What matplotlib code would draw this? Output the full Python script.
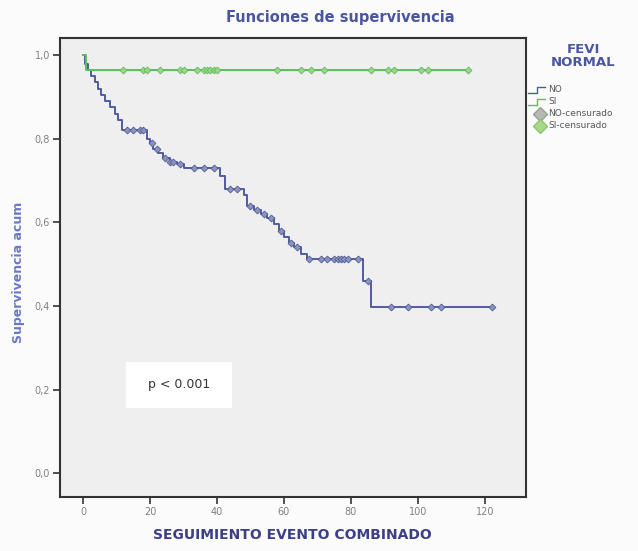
import matplotlib
matplotlib.use("Agg")
import matplotlib.pyplot as plt
from matplotlib.lines import Line2D
import numpy as np

# Kaplan-Meier step data
no_times = [0, 0.5, 1.5, 2.5, 3.5, 4.5, 5.5, 6.5, 8, 9.5, 10.5, 11.5, 19, 20, 21, 22.5, 24, 26, 28, 30,
            41, 42.5, 48, 49, 51, 53, 55, 57, 58.5, 60, 61.5, 63, 65, 67, 83.5, 86, 122]
no_surv = [1.0, 0.98, 0.965, 0.95, 0.935, 0.92, 0.905, 0.89, 0.875, 0.86, 0.845, 0.82, 0.80, 0.79, 0.775,
           0.765, 0.755, 0.745, 0.74, 0.73, 0.71, 0.68, 0.665, 0.64, 0.63, 0.62, 0.61, 0.595, 0.58, 0.565,
           0.55, 0.54, 0.525, 0.512, 0.46, 0.398, 0.398]
no_cens = [13, 15, 17, 18, 20.5, 22, 24.5, 26, 27, 29, 33, 36, 39, 44, 46, 50, 52, 54, 56, 59, 62, 64,
           67.5, 71, 73, 75, 76, 77, 78, 79, 82, 85, 92, 97, 104, 107, 122]

si_times = [0, 1, 115]
si_surv = [1.0, 0.965, 0.965]
si_cens = [12, 18, 19, 23, 29, 30, 34, 36, 37, 38, 39, 40, 58, 65, 68, 72, 86, 91, 93, 101, 103, 115]

x_ticks = [0, 20, 40, 60, 80, 100, 120]
y_ticks = [0.0, 0.2, 0.4, 0.6, 0.8, 1.0]

NO_COL, SI_COL = "#4f5b9c", "#5cbf5c"
NO_FILL, SI_FILL = "#8c95b8", "#9ed38c"
TITLE_COL = "#4a56a0"


def surv_at(times, surv, t):
    i = np.searchsorted(times, t, side="right") - 1
    return surv[max(i, 0)]


fig = plt.figure(figsize=(6.38, 5.51), dpi=100, facecolor="#fbfbfb")
ax = fig.add_axes([0.094, 0.098, 0.730, 0.833])
ax.set_facecolor("#efefef")

ax.step(no_times, no_surv, where="post", color=NO_COL, lw=1.4, zorder=3)
ax.step(si_times, si_surv, where="post", color=SI_COL, lw=1.4, zorder=3)
ax.plot(no_cens, [surv_at(no_times, no_surv, t) for t in no_cens], ls="none", marker="D", ms=3.5,
        mfc=NO_FILL, mec=NO_COL, mew=0.6, zorder=4)
ax.plot(si_cens, [surv_at(si_times, si_surv, t) for t in si_cens], ls="none", marker="D", ms=3.5,
        mfc=SI_FILL, mec=SI_COL, mew=0.6, zorder=4)

ax.set_xlim(-6.9, 132.2)
ax.set_ylim(-0.057, 1.041)
ax.set_xticks(x_ticks)
ax.set_xticklabels([str(v) for v in x_ticks], fontsize=7, color="#808080")
ax.set_yticks(y_ticks)
ax.set_yticklabels([f"{v:.1f}".replace(".", ",") for v in y_ticks], fontsize=7, color="#808080")
ax.tick_params(direction="out", length=5, width=1.2, color="#333333", pad=2)
for s in ax.spines.values():
    s.set_color("#333333")
    s.set_linewidth(1.5)

# p-value box
ax.add_patch(plt.Rectangle((12.8, 0.156), 31.7, 0.11, facecolor="white", edgecolor="none", zorder=2))
ax.text(28.6, 0.211, "p < 0.001", ha="center", va="center", fontsize=9, color="#333333", zorder=3)

ax.set_xlabel("SEGUIMIENTO EVENTO COMBINADO", fontsize=10, fontweight="bold", color="#3c3f88", labelpad=8)
ax.set_ylabel("Supervivencia acum", fontsize=9, fontweight="bold", color="#6a78c8")
ax.yaxis.set_label_coords(-0.075, 0.49)
fig.text(0.533, 0.968, "Funciones de supervivencia", ha="center", va="center",
         fontsize=10.5, fontweight="bold", color=TITLE_COL)

# legend drawn by hand
fig.text(0.914, 0.898, "FEVI\nNORMAL", ha="center", va="center", fontsize=9.5, fontweight="bold",
         color=TITLE_COL, linespacing=1.0)
H, W = 551.0, 638.0


def fx(px):
    return px / W


def fy(py):
    return 1 - py / H


for py, col, lab in [(90, NO_COL, "NO"), (102, SI_COL, "SI")]:
    xs = [fx(528), fx(537), fx(537), fx(545)]
    ys = [fy(py + 3), fy(py + 3), fy(py - 3), fy(py - 3)]
    fig.add_artist(Line2D(xs, ys, color=col, lw=1.0, transform=fig.transFigure))
    fig.text(fx(548), fy(py), lab, fontsize=6.5, color="#555555", va="center")
for py, mfc, mec, lab in [(114, "#b5bab0", "#9a9f95", "NO-censurado"), (126, "#a8d88a", "#8cc470", "SI-censurado")]:
    fig.add_artist(Line2D([fx(540)], [fy(py)], marker="D", ms=7, mfc=mfc, mec=mec, ls="none",
                          transform=fig.transFigure))
    fig.text(fx(548), fy(py), lab, fontsize=6.5, color="#555555", va="center")

fig.savefig("out.png", dpi=100, facecolor=fig.get_facecolor())
